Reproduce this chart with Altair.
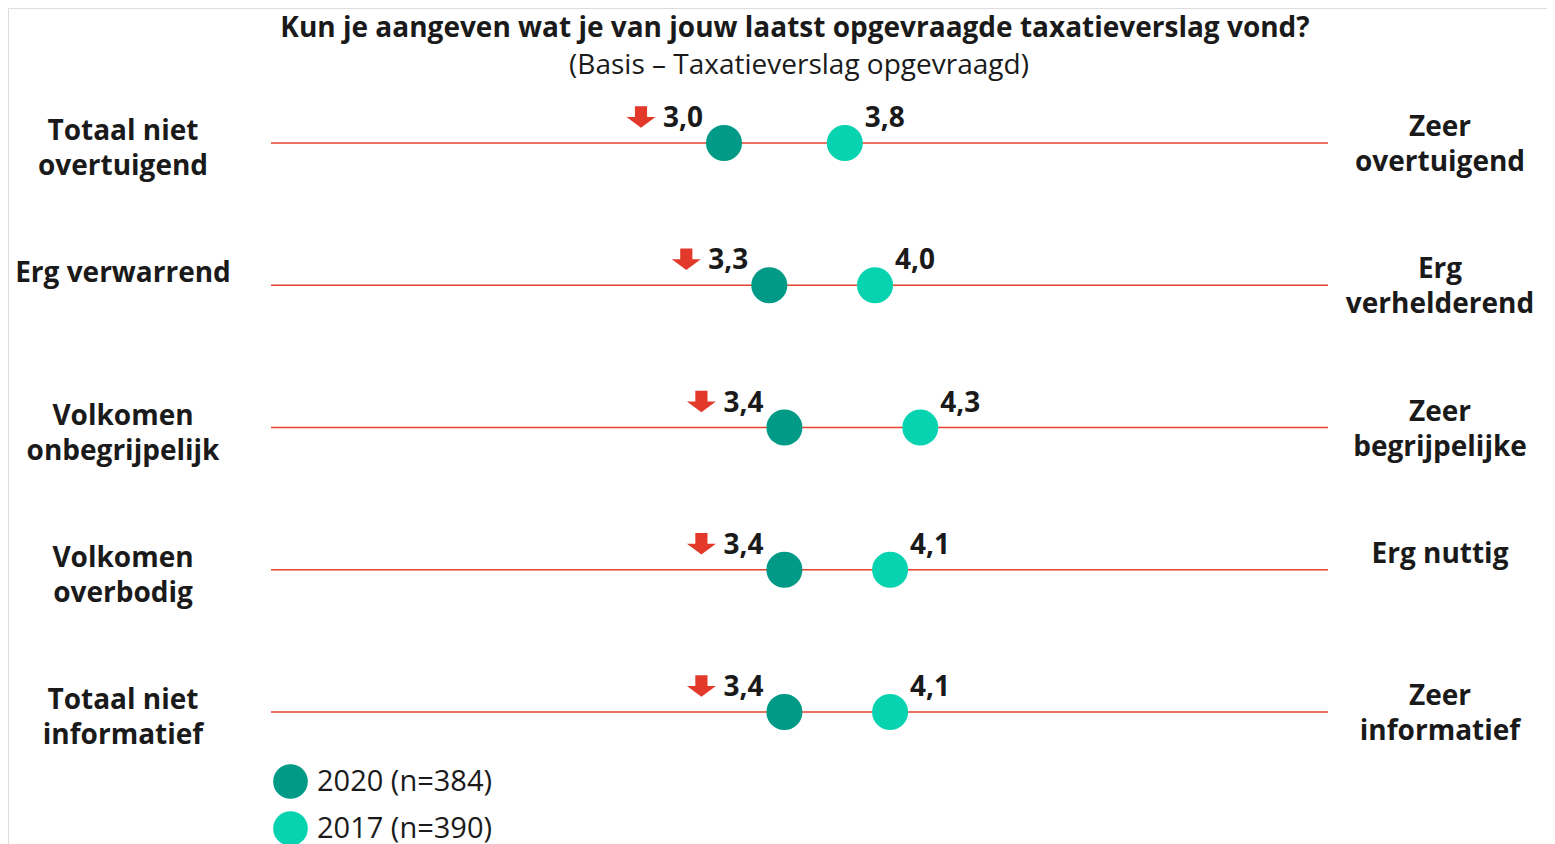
import altair as alt
import pandas as pd

# ---- data ----
rows = ["r1", "r2", "r3", "r4", "r5"]
left_labels = ["Totaal niet\novertuigend", "Erg verwarrend", "Volkomen\nonbegrijpelijk",
               "Volkomen\noverbodig", "Totaal niet\ninformatief"]
right_labels = ["Zeer\novertuigend", "Erg\nverhelderend", "Zeer\nbegrijpelijke",
                "Erg nuttig", "Zeer\ninformatief"]
v2020 = [3.0, 3.3, 3.4, 3.4, 3.4]
v2017 = [3.8, 4.0, 4.3, 4.1, 4.1]
series = ["2020 (n=384)", "2017 (n=390)"]
series_colors = ["#009A87", "#08D3B1"]
scale_min, scale_max = 0, 7

title = "Kun je aangeven wat je van jouw laatst opgevraagde taxatieverslag vond?"
subtitle = "(Basis – Taxatieverslag opgevraagd)"

FONT = "Open Sans"

rows_df = pd.DataFrame({"row": rows, "left": left_labels, "right": right_labels,
                        "x0": scale_min, "x1": scale_max})
pts = pd.DataFrame({
    "row": rows * 2,
    "value": v2020 + v2017,
    "series": [series[0]] * len(rows) + [series[1]] * len(rows),
})
pts["label"] = pts["value"].map(lambda v: f"{v:.1f}".replace(".", ","))
d2020 = pts[pts["series"] == series[0]]
d2017 = pts[pts["series"] == series[1]]

x_scale = alt.Scale(domain=[scale_min, scale_max], range=[263, 1320], nice=False, zero=False)
y_scale = alt.Scale(type="point", domain=rows, range=[135, 704], padding=0)

X = lambda f: alt.X(f, type="quantitative", scale=x_scale, axis=None)
Y = alt.Y("row:N", scale=y_scale, axis=None, sort=rows)

base_rows = alt.Chart(rows_df)

lines = base_rows.mark_rule(color="#E5432F", strokeWidth=1.5).encode(
    x=X("x0"), x2="x1", y=Y)

left_txt = base_rows.mark_text(font=FONT, fontSize=28, fontWeight="bold", color="#1a1a1a",
                               align="center", baseline="alphabetic", lineBreak="\n",
                               lineHeight=35, dy=-3).encode(
    x=alt.value(115), y=Y, text="left:N")

right_txt = base_rows.mark_text(font=FONT, fontSize=28, fontWeight="bold", color="#1a1a1a",
                                align="center", baseline="alphabetic", lineBreak="\n",
                                lineHeight=35, dy=-7).encode(
    x=alt.value(1432), y=Y, text="right:N")

dots = alt.Chart(pts).mark_circle(size=1300, opacity=1).encode(
    x=X("value"), y=Y,
    color=alt.Color("series:N", scale=alt.Scale(domain=series, range=series_colors),
                    legend=alt.Legend(title=None, orient="none", legendX=265, legendY=756,
                                      direction="vertical", symbolSize=1200,
                                      symbolType="circle", symbolStrokeWidth=0,
                                      labelFont=FONT, labelFontSize=29, labelColor="#1a1a1a",
                                      labelLimit=500,
                                      labelOffset=9, rowPadding=12, symbolOpacity=1)),
)

lab2020 = alt.Chart(d2020).mark_text(font=FONT, fontSize=28, fontWeight="bold", color="#1a1a1a",
                                     align="right", baseline="middle", dx=-21, dy=-24).encode(
    x=X("value"), y=Y, text="label:N")
lab2017 = alt.Chart(d2017).mark_text(font=FONT, fontSize=28, fontWeight="bold", color="#1a1a1a",
                                     align="left", baseline="middle", dx=20, dy=-24).encode(
    x=X("value"), y=Y, text="label:N")

arrow_path = "M-0.42,-0.75 L0.42,-0.75 L0.42,0 L1,0 L0,0.75 L-1,0 L-0.42,0 Z"
arrows = alt.Chart(d2020).mark_point(shape=arrow_path, filled=True, color="#E3392A",
                                     opacity=1, size=840, xOffset=-83, yOffset=-26).encode(
    x=X("value"), y=Y)

title_df = pd.DataFrame({"t": [title], "s": [subtitle]})
title_txt = alt.Chart(title_df).mark_text(font=FONT, fontSize=28, fontWeight="bold",
                                          color="#1a1a1a", align="center", baseline="alphabetic").encode(
    x=alt.value(787), y=alt.value(29), text="t:N")
sub_txt = alt.Chart(title_df).mark_text(font=FONT, fontSize=28, color="#1a1a1a",
                                        align="center", baseline="alphabetic").encode(
    x=alt.value(791), y=alt.value(66), text="s:N")

chart = alt.layer(lines, left_txt, right_txt, arrows, dots, lab2020, lab2017,
                  title_txt, sub_txt).properties(
    width=1539, height=836, autosize=alt.AutoSizeParams(type="none"), padding=0,
).configure_view(stroke="transparent", strokeWidth=0).configure(background="white")

chart.save("out.html", embed_options={"renderer": "svg", "actions": False})
